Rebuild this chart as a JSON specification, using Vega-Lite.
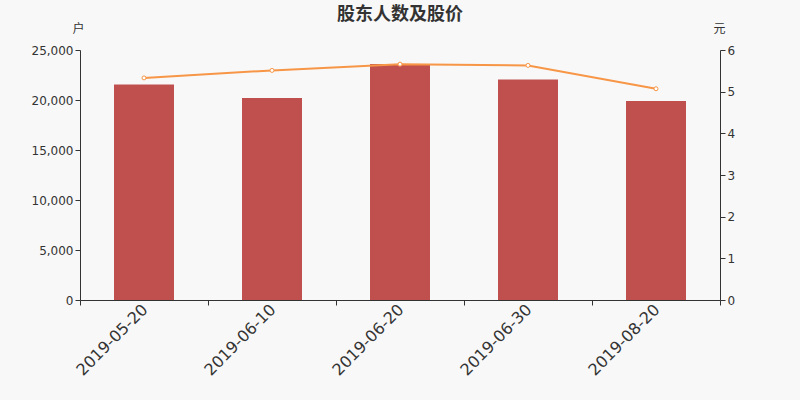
{
  "$schema": "https://vega.github.io/schema/vega-lite/v6.json",
  "width": 640,
  "height": 250,
  "autosize": {"type": "none"},
  "padding": {"left": 80, "top": 50, "right": 80, "bottom": 100},
  "background": "#f8f8f8",
  "config": {
    "view": {"stroke": null},
    "font": "DejaVu Sans",
    "axis": {"grid": false, "domainColor": "#333333", "tickColor": "#333333", "labelColor": "#333333", "titleColor": "#333333", "labelFont": "DejaVu Sans", "titleFont": "Noto Sans CJK SC", "titleFontWeight": "normal", "titleFontSize": 12, "labelFontSize": 12}
  },
  "title": {"text": "股东人数及股价", "font": "Noto Sans CJK SC", "fontSize": 18, "fontWeight": "bold", "color": "#333333", "anchor": "middle", "offset": -2},
  "data": {"values": [
    {"date": "2019-05-20", "holders": 21550, "price": 5.33},
    {"date": "2019-06-10", "holders": 20200, "price": 5.51},
    {"date": "2019-06-20", "holders": 23600, "price": 5.66},
    {"date": "2019-06-30", "holders": 22050, "price": 5.63},
    {"date": "2019-08-20", "holders": 19900, "price": 5.07}
  ]},
  "encoding": {
    "x": {"field": "date", "type": "ordinal", "sort": null, "scale": {"paddingInner": 0, "paddingOuter": 0},
      "axis": {"title": null, "labelAngle": -45, "labelFontSize": 16, "tickBand": "extent", "labelPadding": -4, "labelOffset": -5, "tickSize": 5}}
  },
  "layer": [
    {
      "mark": {"type": "bar", "color": "#c0504d", "size": 60},
      "encoding": {
        "y": {"field": "holders", "type": "quantitative", "scale": {"domain": [0, 25000]},
          "axis": {"title": "户", "titleAngle": 0, "titleX": -2, "titleY": -22, "titleAlign": "center", "titleBaseline": "middle", "format": ",.0f", "labelOverlap": false, "values": [0, 5000, 10000, 15000, 20000, 25000]}}
      }
    },
    {
      "mark": {"type": "line", "color": "#f79646", "strokeWidth": 2, "point": {"filled": true, "fill": "#ffffff", "stroke": "#f79646", "strokeWidth": 1, "size": 16}},
      "encoding": {
        "y": {"field": "price", "type": "quantitative", "scale": {"domain": [0, 6]},
          "axis": {"orient": "right", "title": "元", "titleAngle": 0, "titleX": -1, "titleY": -22, "titleAlign": "center", "titleBaseline": "middle", "labelOverlap": false, "values": [0, 1, 2, 3, 4, 5, 6]}}
      }
    }
  ],
  "resolve": {"scale": {"y": "independent"}}
}
